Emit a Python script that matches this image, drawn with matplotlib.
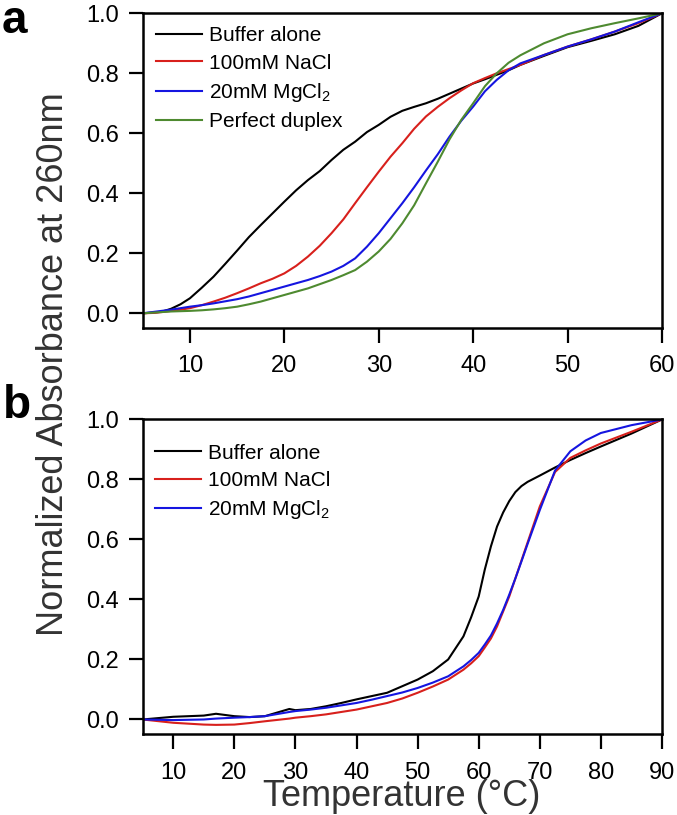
#!/usr/bin/env python3
"""UV melting curves of the duplexes, two panels (a, b)."""

import matplotlib.pyplot as plt

plt.rcParams["font.family"] = ["Liberation Sans", "DejaVu Sans"]
plt.rcParams["mathtext.default"] = "regular"

# panel a: 5-60 C
temp_a = [5, 6, 7, 8, 9, 10, 11.25, 12.5, 13.75, 15, 16.25, 17.5, 18.75, 20,
          21.25, 22.5, 23.75, 25, 26.25, 27.5, 28.75, 30, 31.25, 32.5, 33.75,
          35, 36.25, 37.5, 38.75, 40, 41.25, 42.5, 43.75, 45, 47.5, 50, 52.5,
          55, 57.5, 60]
buffer_a = [0.0, 0.002, 0.005, 0.015, 0.03, 0.05, 0.085, 0.122, 0.165, 0.209,
            0.254, 0.294, 0.333, 0.372, 0.41, 0.444, 0.474, 0.511, 0.545,
            0.572, 0.604, 0.628, 0.655, 0.675, 0.688, 0.7, 0.715, 0.732, 0.749,
            0.766, 0.78, 0.795, 0.81, 0.828, 0.858, 0.887, 0.908, 0.93, 0.958,
            1.0]
nacl_a = [0.0, 0.001, 0.004, 0.008, 0.012, 0.017, 0.027, 0.039, 0.052, 0.067,
          0.083, 0.1, 0.115, 0.133, 0.158, 0.189, 0.225, 0.267, 0.313, 0.367,
          0.42, 0.472, 0.522, 0.567, 0.615, 0.656, 0.688, 0.717, 0.743, 0.767,
          0.784, 0.8, 0.814, 0.828, 0.861, 0.889, 0.913, 0.939, 0.967, 1.0]
mgcl2_a = [0.0, 0.004, 0.008, 0.012, 0.017, 0.022, 0.027, 0.033, 0.04, 0.047,
           0.056, 0.067, 0.078, 0.089, 0.1, 0.111, 0.124, 0.139, 0.158, 0.183,
           0.222, 0.267, 0.317, 0.367, 0.42, 0.476, 0.53, 0.589, 0.642, 0.689,
           0.74, 0.778, 0.81, 0.833, 0.861, 0.889, 0.913, 0.939, 0.97, 1.0]
duplex_a = [0.0, 0.002, 0.004, 0.006, 0.007, 0.008, 0.01, 0.013, 0.017, 0.022,
            0.03, 0.039, 0.05, 0.061, 0.072, 0.083, 0.097, 0.111, 0.127, 0.144,
            0.172, 0.206, 0.248, 0.3, 0.36, 0.433, 0.505, 0.58, 0.645, 0.70,
            0.757, 0.80, 0.835, 0.86, 0.9, 0.93, 0.95, 0.967, 0.983, 1.0]

# panel b: 5-90 C
temp_b = [5, 10, 15, 17, 20, 22.5, 25, 29, 30, 32.5, 35, 37.5, 40, 42.5, 45,
          47.5, 50, 52.5, 55, 57.5, 58.75, 60, 61, 62, 63, 64, 65, 66, 67, 68,
          70, 72.5, 75, 77.5, 80, 85, 90]
buffer_b = [0.0, 0.009, 0.013, 0.019, 0.011, 0.008, 0.011, 0.035, 0.031, 0.035,
            0.044, 0.055, 0.067, 0.078, 0.089, 0.111, 0.133, 0.161, 0.2, 0.277,
            0.34, 0.41, 0.5, 0.577, 0.643, 0.69, 0.728, 0.758, 0.778, 0.792,
            0.813, 0.84, 0.865, 0.888, 0.91, 0.953, 1.0]
nacl_b = [0.0, -0.011, -0.017, -0.018, -0.017, -0.012, -0.006, 0.003, 0.006,
          0.011, 0.017, 0.025, 0.033, 0.044, 0.055, 0.07, 0.089, 0.11, 0.133,
          0.166, 0.187, 0.211, 0.24, 0.27, 0.31, 0.36, 0.41, 0.47, 0.53, 0.59,
          0.71, 0.825, 0.872, 0.897, 0.92, 0.959, 1.0]
mgcl2_b = [0.0, -0.002, 0.0, 0.003, 0.006, 0.008, 0.011, 0.025, 0.028, 0.033,
           0.039, 0.047, 0.055, 0.066, 0.078, 0.09, 0.105, 0.123, 0.144, 0.177,
           0.198, 0.222, 0.25, 0.28, 0.32, 0.365, 0.416, 0.47, 0.527, 0.585,
           0.698, 0.83, 0.894, 0.93, 0.955, 0.981, 1.0]

labels = ["Buffer alone", "100mM NaCl", "20mM MgCl$_2$", "Perfect duplex"]
colors = ["#000000", "#d8201c", "#1515e0", "#4e8a30"]


def style_axes(ax, xlim, xticks):
    ax.set_xlim(*xlim)
    ax.set_ylim(-0.05, 1.0)
    ax.set_xticks(xticks)
    ax.set_yticks([0.0, 0.2, 0.4, 0.6, 0.8, 1.0])
    ax.set_yticklabels(["0.0", "0.2", "0.4", "0.6", "0.8", "1.0"])
    for sp in ax.spines.values():
        sp.set_linewidth(1.8)
    ax.tick_params(axis="y", direction="out", length=10, width=1.6,
                   labelsize=17, pad=7)
    ax.tick_params(axis="x", direction="out", length=11, width=1.6,
                   labelsize=17, pad=8.5)


fig = plt.figure(figsize=(6.77, 8.15), dpi=100)
ax_a = fig.add_axes([0.2108, 0.5972, 0.767, 0.3865])
ax_b = fig.add_axes([0.2108, 0.0988, 0.767, 0.3865])

for ys, lab, col in zip([buffer_a, nacl_a, mgcl2_a, duplex_a], labels, colors):
    ax_a.plot(temp_a, ys, color=col, linewidth=1.5, label=lab)
style_axes(ax_a, (5, 60), [10, 20, 30, 40, 50, 60])
ax_a.legend(loc="upper left", bbox_to_anchor=(0.01, 0.985), frameon=False,
            fontsize=15, handlelength=2.2, handletextpad=0.35,
            labelspacing=0.4, borderaxespad=0.0)

for ys, lab, col in zip([buffer_b, nacl_b, mgcl2_b], labels[:3], colors[:3]):
    ax_b.plot(temp_b, ys, color=col, linewidth=1.5, label=lab)
style_axes(ax_b, (5, 90), [10, 20, 30, 40, 50, 60, 70, 80, 90])
ax_b.legend(loc="upper left", bbox_to_anchor=(0.007, 0.95), frameon=False,
            fontsize=15, handlelength=2.2, handletextpad=0.35,
            labelspacing=0.4, borderaxespad=0.0)

fig.text(54 / 677, 1 - 364 / 815, "Normalized Absorbance at 260nm",
         rotation=90, ha="center", va="center", fontsize=26, color="#333333")
fig.text(402 / 677, 1 - 806 / 815, "Temperature (\u00b0C)", ha="center",
         va="baseline", fontsize=26, color="#333333")
fig.text(2 / 677, 1 - 33 / 815, "a", fontsize=33, fontweight="bold",
         va="baseline")
fig.text(3 / 677, 1 - 418 / 815, "b", fontsize=33, fontweight="bold",
         va="baseline")

fig.savefig("out.png", dpi=100)
